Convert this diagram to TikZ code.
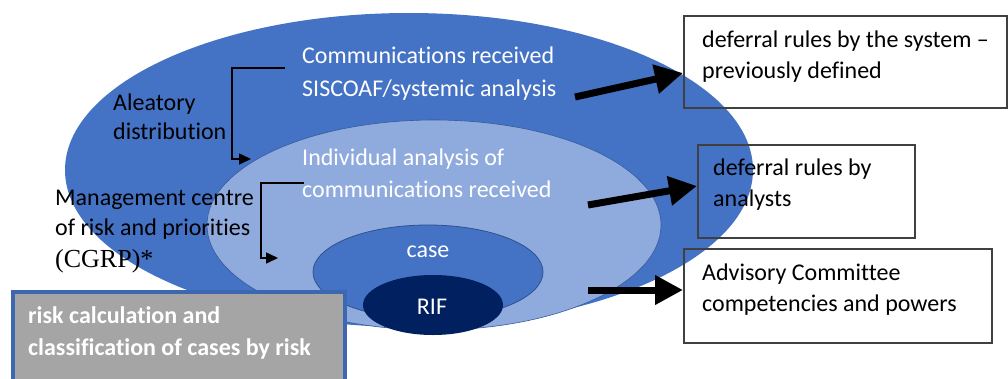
\documentclass[tikz,border=0pt]{standalone}
\usepackage{fontspec}
\setmainfont{Carlito}[Ligatures=NoCommon]
\newfontfamily\seriffamily{Liberation Serif}
\usetikzlibrary{shapes.geometric,arrows.meta}
\definecolor{outerblue}{HTML}{4472C4}
\definecolor{innerblue}{HTML}{8FAADC}
\definecolor{rimblue}{HTML}{2F528F}
\definecolor{rifnavy}{HTML}{002060}
\definecolor{boxgray}{HTML}{A5A5A5}
\definecolor{framegray}{HTML}{404040}
\begin{document}
\begin{tikzpicture}[x=1pt,y=-1pt,
  every node/.style={font=\fontsize{24}{32}\selectfont},
  zone/.style={ellipse, inner sep=0pt},
  rulebox/.style={draw=framegray, line width=1.5pt, inner sep=0pt, anchor=north west},
  txt/.style={anchor=base west, align=left, inner sep=0pt},
  bigarrow/.style={line width=7pt, -{Triangle[length=28pt,width=28pt]}},
  bracket/.style={line width=1.6pt, -{Triangle[length=12pt,width=11pt]}}
]
\useasboundingbox (0,0) rectangle (1008,378);

% nested zones
\node[zone, fill=outerblue, minimum width=688pt, minimum height=314pt] (outer) at (409,170) {};
\node[zone, fill=innerblue, draw=outerblue!80!black, line width=0.6pt,
      minimum width=454pt, minimum height=210pt] (inner) at (434,225) {};
\node[zone, fill=outerblue, draw=rimblue, line width=0.8pt,
      minimum width=230pt, minimum height=94pt] (case) at (428,272) {};
\node[zone, fill=rifnavy, minimum width=140pt, minimum height=60pt] (rif) at (433,305) {};

% zone labels (multi-line nodes are placed by the baseline of their last line)
\node[anchor=base, inner sep=0pt, text=white] (caselbl) at (428,257) {case};
\node[anchor=base, inner sep=0pt, text=white] (riflbl) at (432,314) {RIF};
\node[txt, text=white] (comm) at (302,96)
  {Communications received\\[1pt]SISCOAF/systemic analysis};
\node[txt, text=white] (indiv) at (302,197)
  {Individual analysis of\\communications received};
\node[txt, text=black] (alea) at (113,139.5)
  {Aleatory\\[-2.5pt]distribution};
\node[txt, text=black] (mgmt) at (55,267)
  {Management centre\\[-2pt]of risk and priorities\\[0pt]{\seriffamily\fontsize{26}{32}\selectfont (CGRP)*}};

% outcome boxes
\node[rulebox, minimum width=323pt, minimum height=92pt] (sysbox) at (683,15) {};
\node[txt] (systxt) at (702,78) {deferral rules by the system --\\[-1pt]previously defined};
\node[rulebox, minimum width=217pt, minimum height=93pt] (anbox) at (697,144) {};
\node[txt] (antxt) at (713,206) {deferral rules by\\[-1pt]analysts};
\node[rulebox, minimum width=308pt, minimum height=94pt] (advbox) at (683,248) {};
\node[txt] (advtxt) at (702,311) {Advisory Committee\\[-1pt]competencies and powers};

% risk classification box
\node[draw=outerblue!90!black, line width=4pt, fill=boxgray, anchor=north west,
      minimum width=332pt, minimum height=110pt, inner sep=0pt] (riskbox) at (11,290) {};
\node[txt, text=white, font=\fontsize{24}{32}\selectfont\bfseries] (risktxt) at (28,355)
  {risk calculation and\\classification of cases by risk};

% thick arrows to the outcome boxes
\coordinate (a1) at (575,97);
\coordinate (a1tip) at (683,73);
\coordinate (a2) at (588,205);
\coordinate (a2tip) at (697,186);
\coordinate (a3) at (588,290);
\coordinate (a3tip) at (683,290);
\draw[bigarrow] (a1) -- (a1tip);
\draw[bigarrow] (a2) -- (a2tip);
\draw[bigarrow] (a3) -- (a3tip);

% distribution brackets
\coordinate (b1s) at (285,68);
\coordinate (b1e) at (251,159);
\draw[bracket] (b1s) -- (232,68) |- (b1e);
\coordinate (b2s) at (304,183);
\coordinate (b2e) at (278,258);
\draw[bracket] (b2s) -- (261,183) |- (b2e);
\end{tikzpicture}
\end{document}
